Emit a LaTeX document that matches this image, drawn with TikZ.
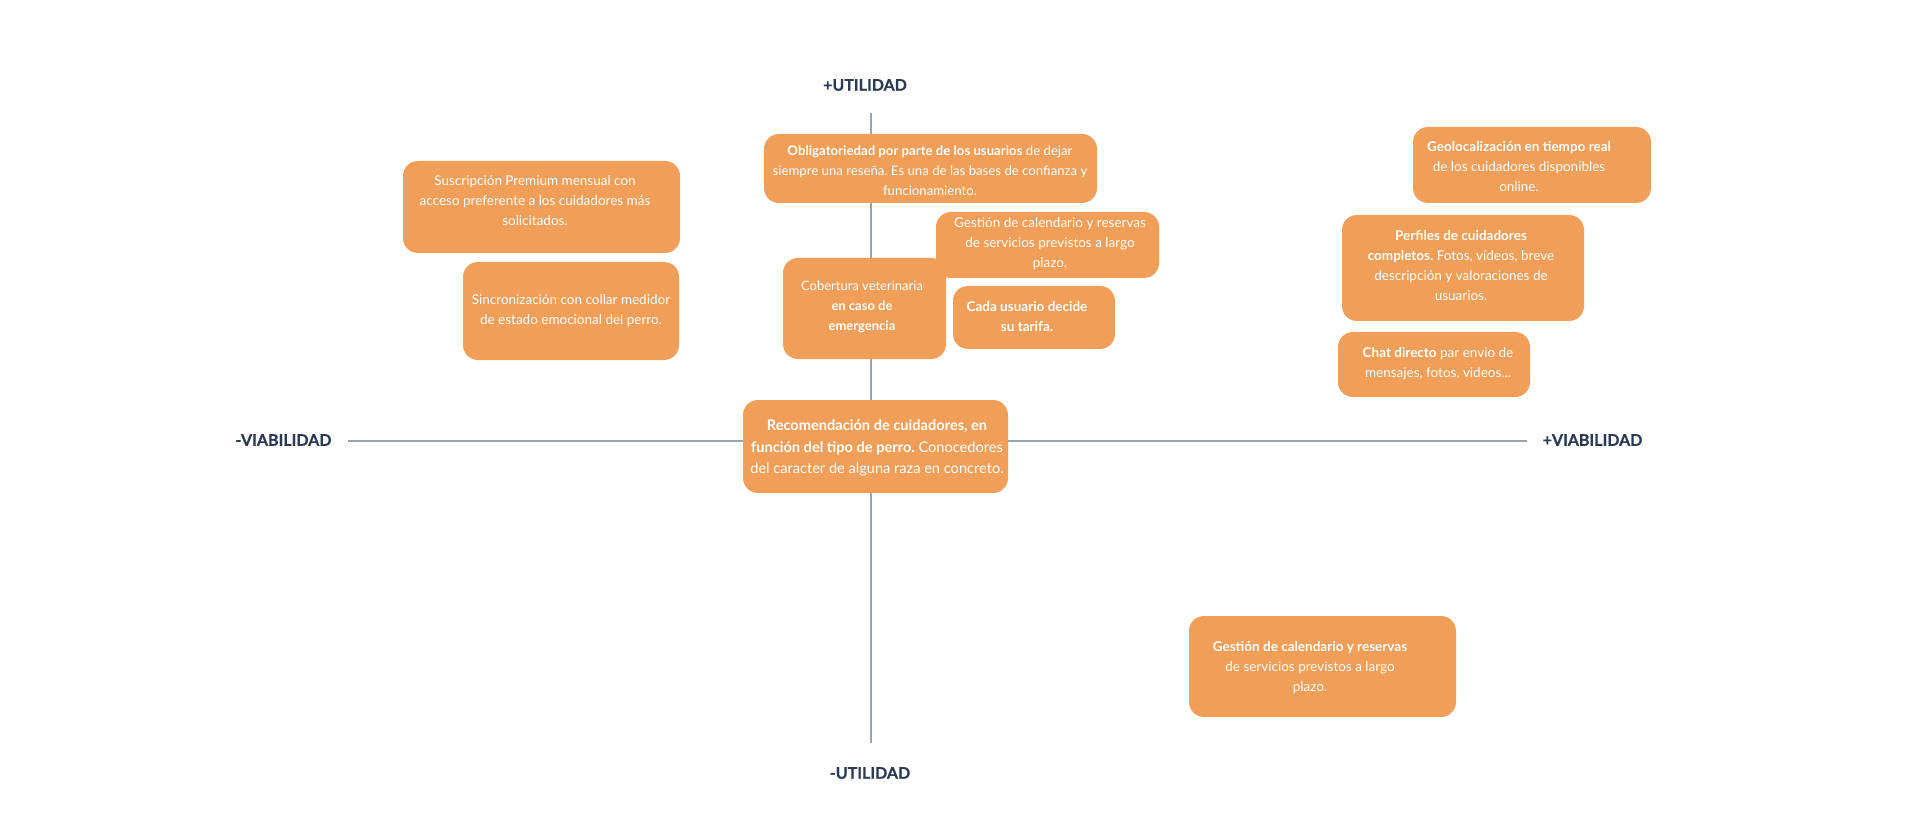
\documentclass[tikz,border=0pt]{standalone}
\usepackage{fontspec}
\setmainfont{Lato}
\newfontfamily\labelfont{Lato}[BoldFeatures={FakeBold=0.6}]
\frenchspacing
\definecolor{boxorange}{HTML}{F19E58}
\definecolor{labelnavy}{HTML}{2B3A52}
\definecolor{axisgray}{HTML}{9AA2AC}
\begin{document}
\begin{tikzpicture}[x=1pt,y=-1pt,
  card/.style={fill=boxorange, draw=none, rounded corners=15pt, inner sep=0pt, anchor=center},
  cardtext/.style={text=white, align=center, inner sep=0pt, font=\fontsize{13.5}{20}\selectfont},
  axislabel/.style={text=labelnavy, inner sep=0pt, font=\labelfont\fontsize{16}{18}\selectfont\bfseries},
  axisline/.style={draw=axisgray, line width=1.6pt}]
\useasboundingbox (0,0) rectangle (1920,818);
\fill[white] (0,0) rectangle (1920,818);

% axes
\coordinate (vtop) at (871,113);
\coordinate (vbot) at (871,743);
\coordinate (hleft) at (348,441);
\coordinate (hright) at (1527,441);
\draw[axisline, line width=1.3pt] (vtop) -- (vbot);
\draw[axisline] (hleft) -- (hright);

\node[axislabel] (uplus) at (865,85) {+UTILIDAD};
\node[axislabel] (uminus) at (870,773) {-UTILIDAD};
\node[axislabel] (vminus) at (283.5,440) {-VIABILIDAD};
\node[axislabel] (vplus) at (1592.5,440) {+VIABILIDAD};

% cards
\node[card, minimum width=277pt, minimum height=92pt] (b1) at (541.5,207) {};
\node[cardtext] (t1) at (535,201) {Suscripción Premium mensual con\\acceso preferente a los cuidadores más\\solicitados.};

\node[card, minimum width=216pt, minimum height=98pt] (b2) at (571,311) {};
\node[cardtext] (t2) at (571,311) {Sincronización con collar medidor\\de estado emocional del perro.};

\node[card, minimum width=333pt, minimum height=69pt] (b3) at (930.5,168.5) {};
\node[cardtext, font=\fontsize{13.2}{20}\selectfont] (t3) at (930,171) {\textbf{Obligatoriedad por parte de los usuarios} de dejar\\siempre una reseña. Es una de las bases de confianza y\\funcionamiento.};

\node[card, minimum width=223pt, minimum height=66pt] (b4) at (1047.5,245) {};
\node[cardtext] (t4) at (1050,244) {Gestión de calendario y reservas\\de servicios previstos a largo\\plazo.};

\node[card, minimum width=163pt, minimum height=101pt] (b5) at (864.5,308.5) {};
\node[cardtext, font=\fontsize{13}{20}\selectfont] (t5) at (862,307) {Cobertura veterinaria\\\textbf{en caso de}\\\textbf{emergencia}};

\node[card, minimum width=162pt, minimum height=63pt] (b6) at (1034,317.5) {};
\node[cardtext] (t6) at (1027,317) {\textbf{Cada usuario decide}\\\textbf{su tarifa.}};

\node[card, minimum width=265pt, minimum height=93pt] (b7) at (875.5,446.5) {};
\node[cardtext, font=\fontsize{14.6}{21.5}\selectfont] (t7) at (877,448) {\textbf{Recomendación de cuidadores, en}\\\textbf{función del tipo de perro.} Conocedores\\del caracter de alguna raza en concreto.};

\node[card, minimum width=238pt, minimum height=76pt] (b8) at (1532,165) {};
\node[cardtext] (t8) at (1519,167) {\textbf{Geolocalización en tiempo real}\\de los cuidadores disponibles\\online.};

\node[card, minimum width=242pt, minimum height=106pt] (b9) at (1463,268) {};
\node[cardtext] (t9) at (1461,266) {\textbf{Perfiles de cuidadores}\\\textbf{completos.} Fotos, vídeos, breve\\descripción y valoraciones de\\usuarios.};

\node[card, minimum width=192pt, minimum height=65pt] (b10) at (1434,364.5) {};
\node[cardtext] (t10) at (1438,364) {\textbf{Chat directo} par envio de\\mensajes, fotos, videos...};

\node[card, minimum width=267pt, minimum height=101pt] (b11) at (1322.5,666.5) {};
\node[cardtext] (t11) at (1310,668) {\textbf{Gestión de calendario y reservas}\\de servicios previstos a largo\\plazo.};
\end{tikzpicture}
\end{document}
